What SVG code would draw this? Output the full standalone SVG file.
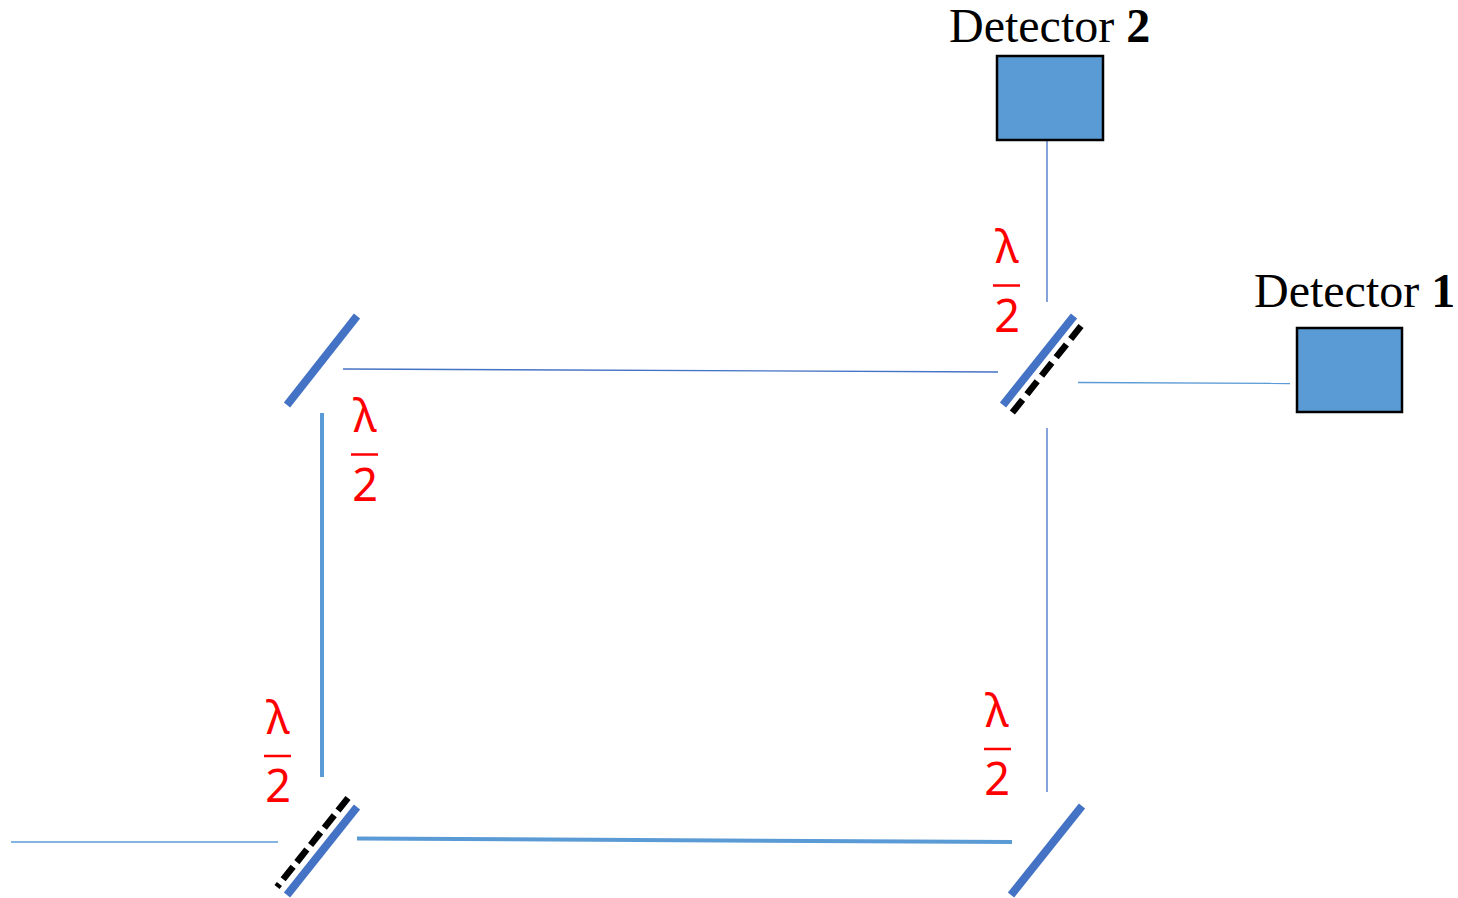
<svg xmlns="http://www.w3.org/2000/svg" width="1458" height="898" viewBox="0 0 1458 898">
<style>
.det{fill:#5b9bd5;stroke:#000;stroke-width:2.5}
.mir{fill:none;stroke:#4472c4;stroke-width:8}
.dash{fill:none;stroke:#000;stroke-width:6.500;stroke-dasharray:16.500 7}
.beam{fill:none;stroke:#4472c4;stroke-width:1.3}
.lbl{font-family:"Liberation Serif",serif;font-size:48px;fill:#000}
.frac{font-family:"Noto Sans","DejaVu Sans",sans-serif;fill:#f00;text-anchor:middle}
.bar{stroke:#f00;stroke-width:2.5}
</style>
<rect width="1458" height="898" fill="#fff"/>
<g id="connectors">
<path class="beam" d="M1047 141V302"/>
<path class="beam" d="M343 369L998 372"/>
<path class="beam" d="M1078 382.500L1290 383.500" style="stroke:#5b9bd5"/>
<path class="beam" d="M1047 428V792"/>
<path class="beam" d="M322 413V777" style="stroke:#5b9bd5;stroke-width:4"/>
<path class="beam" d="M357 838.500L1012 842" style="stroke:#5b9bd5;stroke-width:4"/>
<path class="beam" d="M11 842H278" style="stroke:#5b9bd5"/>
</g>
<g id="mirror-top-left"><path class="mir" d="M357 316L287 405"/></g>
<g id="mirror-bottom-right"><path class="mir" d="M1082 806L1011 895"/></g>
<g id="splitter-top-right">
<path class="mir" d="M1074 316L1003 405"/>
<path class="dash" d="M1081 326L1012 413"/>
</g>
<g id="splitter-bottom-left">
<path class="mir" d="M357 807L287 895"/>
<path class="dash" d="M348 798L277 887" style="stroke-dasharray:16 6"/>
</g>
<g id="detector-2">
<text class="lbl" x="949" y="42">Detector <tspan font-weight="bold">2</tspan></text>
<rect class="det" x="997" y="56" width="106" height="84"/>
</g>
<g id="detector-1">
<text class="lbl" x="1254" y="307">Detector <tspan font-weight="bold">1</tspan></text>
<rect class="det" x="1297" y="328" width="105" height="84"/>
</g>
<g id="label-top-right">
<text class="frac" x="1007" y="263" font-size="45">λ</text>
<path class="bar" d="M993 285.500H1020"/>
<text class="frac" x="1007" y="332" font-size="45">2</text>
</g>
<g id="label-top-left">
<text class="frac" x="365" y="432" font-size="45">λ</text>
<path class="bar" d="M351 454.500H378"/>
<text class="frac" x="365" y="501" font-size="45">2</text>
</g>
<g id="label-bottom-left">
<text class="frac" x="278" y="734" font-size="45">λ</text>
<path class="bar" d="M264 756H291"/>
<text class="frac" x="278" y="802" font-size="45">2</text>
</g>
<g id="label-bottom-right">
<text class="frac" x="997" y="727" font-size="45">λ</text>
<path class="bar" d="M984 749H1011"/>
<text class="frac" x="997" y="795" font-size="45">2</text>
</g>
</svg>
